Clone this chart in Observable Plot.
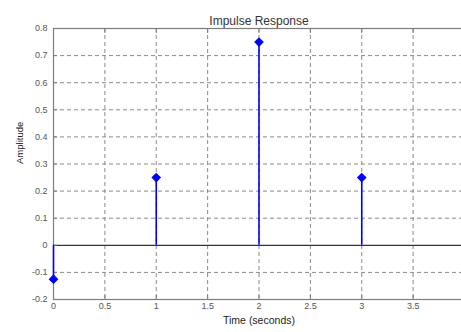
<!DOCTYPE html>
<html>
<head>
<meta charset="utf-8">
<script src="https://cdn.jsdelivr.net/npm/d3@7"></script>
<script src="https://cdn.jsdelivr.net/npm/@observablehq/plot@0.6"></script>
<style>
  html, body { margin: 0; padding: 0; background: #fff; overflow: hidden; }
  #chart svg { display: block; max-width: none !important; }
</style>
</head>
<body>
<div id="chart"></div>
<script>
// Sample times (s) and impulse response amplitudes
const times = [0, 1, 2, 3];
const amplitudes = [-0.125, 0.25, 0.75, 0.25];
const xTicks = [0, 0.5, 1, 1.5, 2, 2.5, 3, 3.5];
const yTicks = [-0.2, -0.1, 0, 0.1, 0.2, 0.3, 0.4, 0.5, 0.6, 0.7, 0.8];
const titleText = "Impulse Response";
const xLabel = "Time (seconds)";
const yLabel = "Amplitude";

const samples = times.map((t, i) => ({t, a: amplitudes[i]}));
const font = "Liberation Sans, Arial, sans-serif";
const gridColor = "#8a8a8a";
const boxColor = "#7c7c7c";
const stemColor = "#0000ff";

const chart = Plot.plot({
  width: 470,
  height: 332,
  marginLeft: 53,
  marginRight: 6,
  marginTop: 28,
  marginBottom: 33,
  style: {fontFamily: font, fontSize: "9px", color: "#555", background: "#fff", maxWidth: "none"},
  x: {domain: [0, 4], label: null},
  y: {domain: [-0.2, 0.8], label: null},
  marks: [
    // dashed grid
    Plot.ruleX(xTicks.filter(d => d > 0), {stroke: gridColor, strokeDasharray: "4,3", strokeWidth: 1}),
    Plot.ruleY(yTicks.filter(d => d > -0.2 && d < 0.8 && d !== 0), {stroke: gridColor, strokeDasharray: "4,3", strokeWidth: 1}),
    // zero baseline
    Plot.ruleY([0], {stroke: "#333", strokeWidth: 1.2}),
    // axis box
    Plot.frame({stroke: boxColor, strokeWidth: 1.2}),
    // axes with inward ticks
    Plot.axisX(xTicks, {anchor: "bottom", tickSize: -4, tickPadding: 7, stroke: boxColor, fill: "#555", tickFormat: d => String(d)}),
    Plot.axisX(xTicks, {anchor: "top", tickSize: -4, stroke: boxColor, tickFormat: () => ""}),
    Plot.axisY(yTicks, {anchor: "left", tickSize: -4, tickPadding: 10, stroke: boxColor, fill: "#555", tickFormat: d => String(d)}),
    // stems and markers
    Plot.ruleX(samples, {x: "t", y1: 0, y2: "a", stroke: stemColor, strokeWidth: 1.6}),
    Plot.dot(samples, {x: "t", y: "a", symbol: "diamond2", r: 3.6, fill: stemColor, stroke: stemColor, strokeWidth: 1.2}),
    // title and axis labels
    Plot.text([titleText], {frameAnchor: "top", dy: -12, fontSize: 12, fill: "#333"}),
    Plot.text([xLabel], {frameAnchor: "bottom", dy: 24, fontSize: 10.5, fill: "#222"}),
    Plot.text([yLabel], {frameAnchor: "left", dx: -34, rotate: -90, fontSize: 9.5, fill: "#222"})
  ]
});
document.getElementById("chart").appendChild(chart);
</script>
</body>
</html>
